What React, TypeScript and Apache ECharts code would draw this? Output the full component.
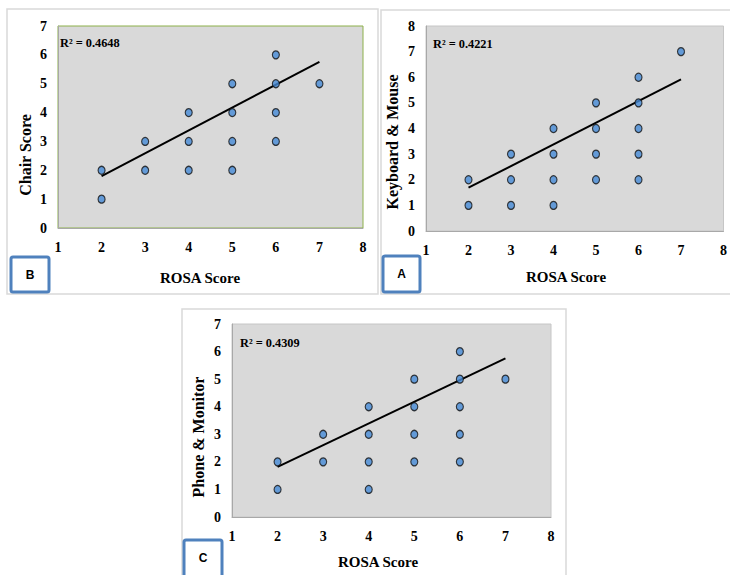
import React, { useEffect, useRef } from "react";
import * as echarts from "echarts";

// Panel B: Chair Score vs ROSA Score
const chairPoints: [number, number][] = [
  [2, 2], [2, 1], [3, 3], [3, 2], [4, 4], [4, 3], [4, 2],
  [5, 5], [5, 4], [5, 3], [5, 2], [6, 6], [6, 5], [6, 4], [6, 3], [7, 5],
];
const chairTrend: [number, number][] = [[2, 1.8], [7, 5.76]];
const chairR2 = "R² = 0.4648";

// Panel A: Keyboard & Mouse vs ROSA Score
const keyboardPoints: [number, number][] = [
  [2, 2], [2, 1], [3, 3], [3, 2], [3, 1], [4, 4], [4, 3], [4, 2], [4, 1],
  [5, 5], [5, 4], [5, 3], [5, 2], [6, 6], [6, 5], [6, 4], [6, 3], [6, 2], [7, 7],
];
const keyboardTrend: [number, number][] = [[2, 1.69], [7, 5.92]];
const keyboardR2 = "R² = 0.4221";

// Panel C: Phone & Monitor vs ROSA Score
const phonePoints: [number, number][] = [
  [2, 2], [2, 1], [3, 3], [3, 2], [4, 4], [4, 3], [4, 2], [4, 1],
  [5, 5], [5, 4], [5, 3], [5, 2], [6, 6], [6, 5], [6, 4], [6, 3], [6, 2], [7, 5],
];
const phoneTrend: [number, number][] = [[2, 1.82], [7, 5.75]];
const phoneR2 = "R² = 0.4309";

const xTitle = "ROSA Score";
const yTitles = ["Chair Score", "Keyboard & Mouse", "Phone & Monitor"];
const panelLetters = ["B", "A", "C"];
const yMaxes = [7, 8, 7];

const SERIF = "'Liberation Serif', 'Times New Roman', serif";
const SANS = "'Liberation Sans', Arial, sans-serif";

export default function App() {
  const ref = useRef<HTMLDivElement>(null);
  useEffect(() => {
    if (!ref.current) return;
    const chart = echarts.init(ref.current, null, { renderer: "svg" });

    const grids = [
      { left: 58, top: 26, width: 305, height: 202, borderColor: "#8db04a" },
      { left: 426, top: 26, width: 300, height: 205, borderColor: "#c6c6c6" },
      { left: 232, top: 324, width: 319, height: 193, borderColor: "#c6c6c6" },
    ];
    const pointsAll = [chairPoints, keyboardPoints, phonePoints];
    const trendsAll = [chairTrend, keyboardTrend, phoneTrend];

    const axisLabelStyle = {
      fontFamily: SERIF,
      fontWeight: "bold" as const,
      fontSize: 14,
      color: "#000",
    };

    const xAxis = grids.map((_, i) => ({
      type: "value" as const,
      gridIndex: i,
      min: 1,
      max: 8,
      interval: 1,
      splitLine: { show: false },
      axisTick: { show: false },
      axisLine: { show: true, lineStyle: { color: "#a8a8a8", width: 1 } },
      axisLabel: { ...axisLabelStyle, margin: 12 },
    }));
    const yAxis = grids.map((_, i) => ({
      type: "value" as const,
      gridIndex: i,
      min: 0,
      max: yMaxes[i],
      interval: 1,
      splitLine: { show: false },
      axisTick: { show: false },
      axisLine: { show: true, lineStyle: { color: "#a8a8a8", width: 1 } },
      axisLabel: { ...axisLabelStyle, margin: 11 },
    }));

    const series: any[] = [];
    grids.forEach((_, i) => {
      series.push({
        type: "line",
        xAxisIndex: i,
        yAxisIndex: i,
        data: trendsAll[i],
        symbol: "none",
        lineStyle: { color: "#000", width: 2 },
        z: 3,
      });
      series.push({
        type: "scatter",
        xAxisIndex: i,
        yAxisIndex: i,
        data: pointsAll[i],
        symbolSize: [7, 8],
        itemStyle: { color: "#4589d6", borderColor: "#111", borderWidth: 1.2 },
        z: 4,
      });
    });

    const frames = [
      { x: 7, y: 9, w: 371, h: 285 },
      { x: 381, y: 10, w: 360, h: 284 },
      { x: 182, y: 309, w: 384, h: 275 },
    ];
    const boxes = [
      { x: 11, y: 257, w: 38, h: 35 },
      { x: 383, y: 256, w: 37, h: 36 },
      { x: 184, y: 540, w: 38, h: 40 },
    ];
    const xTitlePos = [
      [200, 278],
      [566, 277],
      [378, 562],
    ];
    const yTitlePos = [
      [25, 155],
      [392, 142],
      [198, 437],
    ];
    const r2Pos = [
      [60, 43],
      [433, 44],
      [240, 343],
    ];
    const r2Texts = [chairR2, keyboardR2, phoneR2];

    const graphic: any[] = [];
    frames.forEach((f) => {
      graphic.push({
        type: "rect",
        shape: { x: f.x, y: f.y, width: f.w, height: f.h },
        style: { fill: "none", stroke: "#d9d9d9", lineWidth: 1.5 },
        z: 0,
        silent: true,
      });
    });
    boxes.forEach((b, i) => {
      graphic.push({
        type: "rect",
        shape: { x: b.x, y: b.y, width: b.w, height: b.h, r: 2 },
        style: { fill: "#fff", stroke: "#4f81bd", lineWidth: 3 },
        z: 10,
      });
      graphic.push({
        type: "text",
        x: b.x + b.w / 2,
        y: i === 2 ? b.y + 18 : b.y + b.h / 2,
        style: {
          text: panelLetters[i],
          font: `bold 12px ${SANS}`,
          fill: "#000",
          align: "center",
          verticalAlign: "middle",
        },
        z: 11,
      });
    });
    xTitlePos.forEach((p) => {
      graphic.push({
        type: "text",
        x: p[0],
        y: p[1],
        style: {
          text: xTitle,
          font: `bold 15px ${SERIF}`,
          fill: "#000",
          align: "center",
          verticalAlign: "middle",
        },
        z: 10,
      });
    });
    yTitlePos.forEach((p, i) => {
      graphic.push({
        type: "text",
        x: p[0],
        y: p[1],
        rotation: Math.PI / 2,
        style: {
          text: yTitles[i],
          font: `bold 16px ${SERIF}`,
          fill: "#000",
          align: "center",
          verticalAlign: "middle",
        },
        z: 10,
      });
    });
    r2Pos.forEach((p, i) => {
      graphic.push({
        type: "text",
        x: p[0],
        y: p[1],
        scaleX: 0.95,
        style: {
          text: r2Texts[i],
          font: `bold 13px ${SERIF}`,
          fill: "#000",
          align: "left",
          verticalAlign: "middle",
        },
        z: 10,
      });
    });

    chart.setOption({
      animation: false,
      backgroundColor: "#fff",
      grid: grids.map((g) => ({
        left: g.left,
        top: g.top,
        width: g.width,
        height: g.height,
        show: true,
        backgroundColor: "#d9d9d9",
        borderColor: g.borderColor,
        borderWidth: 1,
      })),
      xAxis,
      yAxis,
      series,
      graphic,
    });
    return () => chart.dispose();
  }, []);
  return (
    <div
      ref={ref}
      style={{ position: "fixed", left: 0, top: 0, width: 730, height: 575 }}
    />
  );
}
